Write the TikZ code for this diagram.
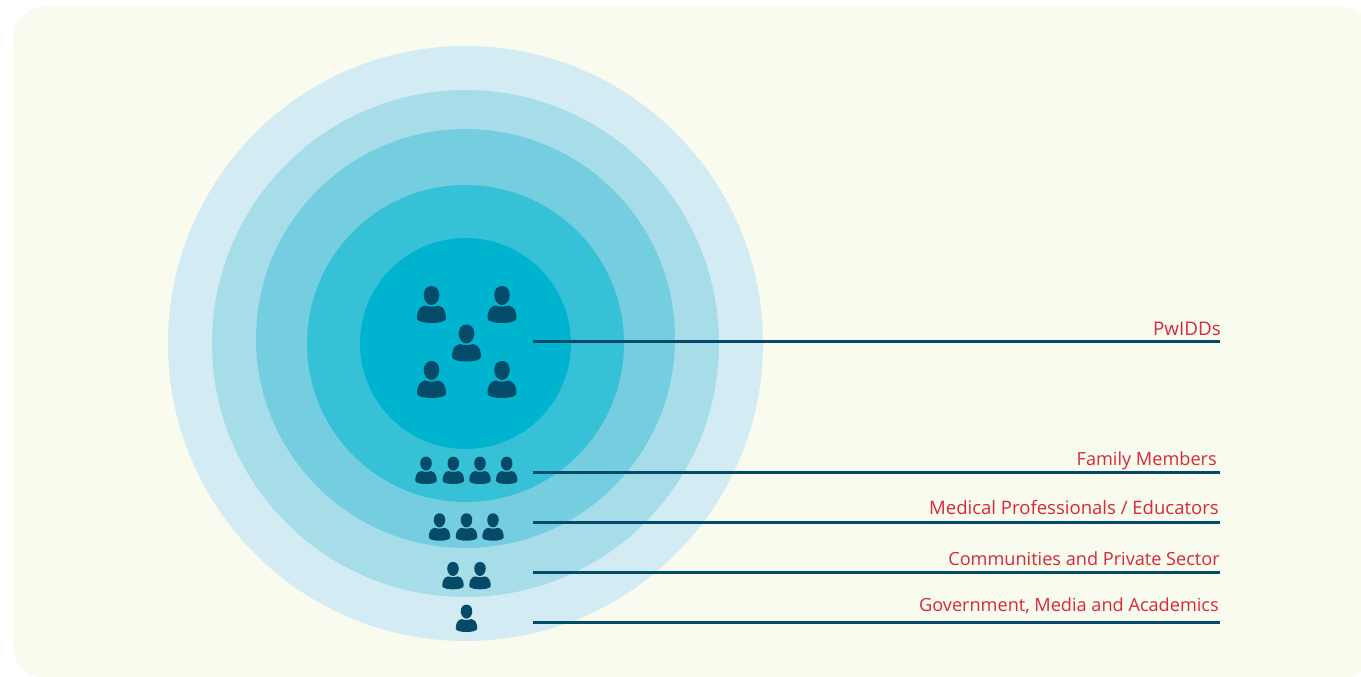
\documentclass[tikz,border=0pt]{standalone}
\usepackage{fontspec}
\setmainfont{Open Sans}
\definecolor{bgc}{HTML}{F9FBEF}
\definecolor{c1}{HTML}{D3ECF3}
\definecolor{c2}{HTML}{A7DDE9}
\definecolor{c3}{HTML}{75CEDF}
\definecolor{c4}{HTML}{36C1D6}
\definecolor{c5}{HTML}{00B4CF}
\definecolor{ink}{HTML}{044A69}
\definecolor{lab}{HTML}{D8283A}
\tikzset{
  ring/.style={fill=#1,draw=none},
  leader/.style={draw=ink,line width=1.9pt},
  labeltext/.style={text=lab,font=\fontsize{13.6pt}{15pt}\selectfont,anchor=base east,inner sep=0pt},
  person/.pic={
    \fill[ink] (0,-18) .. controls (-4.5,-18) and (-7.8,-23) .. (-7.8,-28) .. controls (-7.8,-33.5) and (-4.5,-37) .. (0,-37) .. controls (4.5,-37) and (7.8,-33.5) .. (7.8,-28) .. controls (7.8,-23) and (4.5,-18) .. (0,-18) -- cycle;
    \fill[ink] (-14.5,-4.5) .. controls (-14.5,-12) and (-12,-16.5) .. (-6.5,-17.5) .. controls (-3,-16) and (3,-16) .. (6.5,-17.5) .. controls (12,-16.5) and (14.5,-12) .. (14.5,-4.5) .. controls (14.5,-1.5) and (7,0) .. (0,0) .. controls (-7,0) and (-14.5,-1.5) .. (-14.5,-4.5) -- cycle;
  }
}
\begin{document}
\begin{tikzpicture}[x=0.75pt,y=-0.75pt]
\useasboundingbox (0,0) rectangle (1361,676);
\fill[white] (0,0) rectangle (1361,676);
\fill[bgc,rounded corners=24pt] (13,7) rectangle (1374,678);
\fill[ring=c1] (465.5,343.5) circle [radius=297.5*0.75pt];
\fill[ring=c2] (465.5,343.5) circle [radius=253.5*0.75pt];
\fill[ring=c3] (465.5,338.5) circle [radius=209.5*0.75pt];
\fill[ring=c4] (465.5,343.5) circle [radius=158.5*0.75pt];
\fill[ring=c5] (465.5,343.5) circle [radius=105.5*0.75pt];
% people
\foreach \px/\py in {431.5/323,502/323,466.5/361.5,431.5/398,502/398}
  \pic at (\px,\py) {person};
\foreach \px in {426,453.3,480,506.7}
  \pic[scale=0.74] at (\px,484) {person};
\foreach \px in {439.5,466.5,493}
  \pic[scale=0.74] at (\px,540.7) {person};
\foreach \px in {453,480}
  \pic[scale=0.74] at (\px,589.3) {person};
\pic[scale=0.74] at (466.5,632) {person};
% leaders
\coordinate (a1) at (533,341.5); \coordinate (b1) at (1220,341.5);
\coordinate (a2) at (533,472.5); \coordinate (b2) at (1220,472.5);
\coordinate (a3) at (533,522.5); \coordinate (b3) at (1220,522.5);
\coordinate (a4) at (533,572.5); \coordinate (b4) at (1220,572.5);
\coordinate (a5) at (533,622.5); \coordinate (b5) at (1220,622.5);
\draw[leader] (a1) -- (b1);
\draw[leader] (a2) -- (b2);
\draw[leader] (a3) -- (b3);
\draw[leader] (a4) -- (b4);
\draw[leader] (a5) -- (b5);
\node[labeltext,font=\fontsize{14.1pt}{15pt}\selectfont] (l1) at (1221,335) {PwIDDs};
\node[labeltext] (l2) at (1217,465) {Family Members};
\node[labeltext,font=\fontsize{13.9pt}{15pt}\selectfont] (l3) at (1219,514) {Medical Professionals / Educators};
\node[labeltext] (l4) at (1220,565) {Communities and Private Sector};
\node[labeltext] (l5) at (1219,611.5) {Government, Media and Academics};
\end{tikzpicture}
\end{document}
